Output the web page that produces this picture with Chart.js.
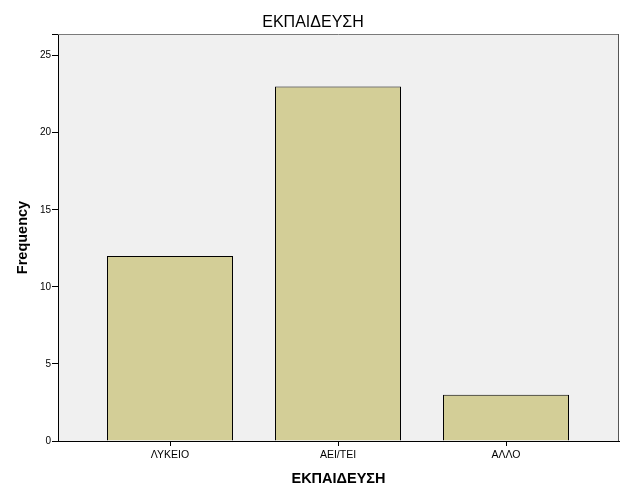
<!DOCTYPE html>
<html>
<head>
<meta charset="utf-8">
<script src="https://cdn.jsdelivr.net/npm/chart.js@4"></script>
<style>
  html, body { margin: 0; padding: 0; background: #ffffff; }
  #wrap { width: 626px; height: 501px; }
</style>
</head>
<body>
<div id="wrap"><canvas id="c" width="626" height="501"></canvas></div>
<script>
const chartTitle = 'ΕΚΠΑΙΔΕΥΣΗ';
const xAxisTitle = 'ΕΚΠΑΙΔΕΥΣΗ';
const yAxisTitle = 'Frequency';
const categories = ['ΛΥΚΕΙΟ', 'ΑΕΙ/ΤΕΙ', 'ΑΛΛΟ'];
const frequencies = [12, 23, 3];
const yTickStep = 5;
const yMax = 26.4;

const FONT = 'Arial, "Liberation Sans", Helvetica, sans-serif';

const plotBg = {
  id: 'plotBg',
  beforeDraw(chart) {
    const {ctx, chartArea: a} = chart;
    ctx.save();
    ctx.fillStyle = '#f0f0f0';
    ctx.fillRect(a.left, a.top, a.right - a.left, a.bottom - a.top);
    ctx.restore();
  },
  afterDraw(chart) {
    const {ctx, chartArea: a} = chart;
    ctx.save();
    ctx.lineWidth = 1;
    ctx.strokeStyle = '#7a7a7a';
    ctx.beginPath();
    ctx.moveTo(a.left, Math.round(a.top) + 0.5);
    ctx.lineTo(a.right, Math.round(a.top) + 0.5);
    ctx.stroke();
    ctx.strokeStyle = '#555555';
    ctx.beginPath();
    ctx.moveTo(Math.round(a.right) - 0.5, a.top);
    ctx.lineTo(Math.round(a.right) - 0.5, a.bottom);
    ctx.stroke();
    ctx.restore();
  }
};

new Chart(document.getElementById('c'), {
  type: 'bar',
  data: {
    datasets: [{
      data: frequencies.map((v, i) => ({x: i, y: v})),
      backgroundColor: '#d3ce97',
      borderColor: '#000000',
      borderWidth: 1,
      categoryPercentage: 1,
      barPercentage: 0.75
    }]
  },
  options: {
    responsive: false,
    animation: false,
    devicePixelRatio: 1,
    layout: { padding: { left: 7, right: 7, top: 0, bottom: 0 } },
    plugins: {
      legend: { display: false },
      tooltip: { enabled: false },
      title: {
        display: true,
        text: chartTitle,
        color: '#000',
        font: { family: FONT, size: 16, weight: 'normal' },
        padding: { top: 13.4, bottom: 1.4 }
      }
    },
    scales: {
      x: {
        type: 'linear',
        offset: false,
        min: -0.6667,
        max: 2.6726,
        afterBuildTicks(scale) {
          scale.ticks = categories.map((_, i) => ({ value: i }));
        },
        afterFit(scale) { scale.height = 60; },
        grid: { offset: false, drawOnChartArea: false, drawTicks: true, tickLength: 5, color: '#000' },
        border: { display: true, color: '#000', width: 1 },
        ticks: {
          color: '#000',
          font: { family: FONT, size: 10.5 },
          padding: 3,
          maxRotation: 0,
          autoSkip: false,
          callback: (v) => categories[v] ?? ''
        },
        title: {
          display: true,
          text: xAxisTitle,
          color: '#000',
          font: { family: FONT, size: 14.5, weight: 'bold' },
          padding: { top: 0, bottom: 13.3 }
        }
      },
      y: {
        min: 0,
        max: yMax,
        afterFit(scale) { scale.width = 51; },
        grid: { drawOnChartArea: false, drawTicks: true, tickLength: 6, color: '#000' },
        border: { display: true, color: '#000', width: 1 },
        ticks: {
          stepSize: yTickStep,
          color: '#000',
          font: { family: FONT, size: 10 },
          padding: 1,
          callback: (v) => (v % yTickStep === 0 ? String(v) : '')
        },
        title: {
          display: true,
          text: yAxisTitle,
          color: '#000',
          font: { family: FONT, size: 14.5, weight: 'bold' },
          padding: { top: 7.6, bottom: 0 }
        }
      }
    }
  },
  plugins: [plotBg]
});
</script>
</body>
</html>
